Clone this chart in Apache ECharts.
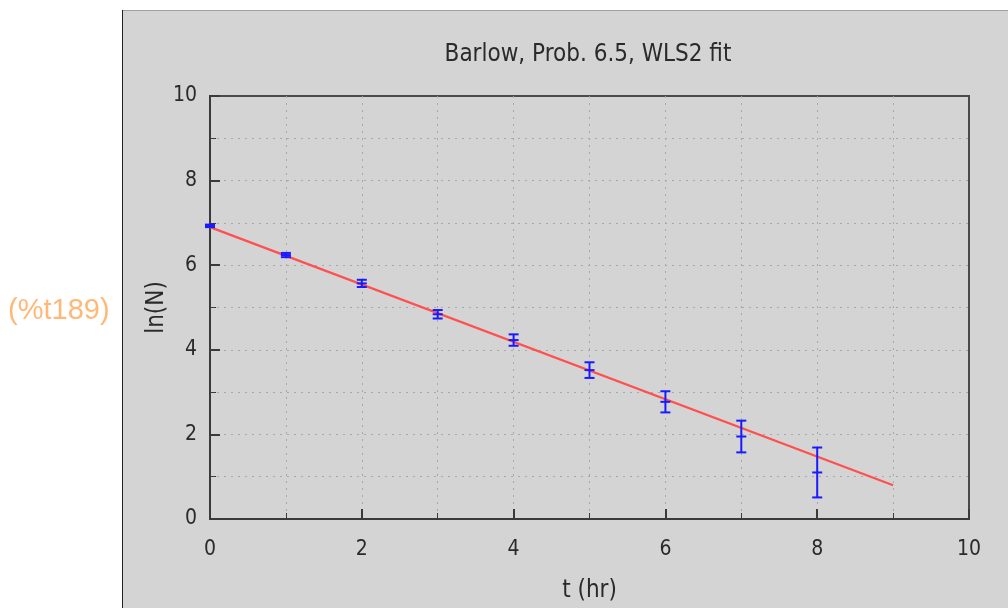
<!DOCTYPE html>
<html>
<head>
<meta charset="utf-8">
<script src="https://cdn.jsdelivr.net/npm/echarts@6/dist/echarts.min.js"></script>
<style>
html,body{margin:0;padding:0;background:#fff;}
#chart{width:1008px;height:608px;}
</style>
</head>
<body>
<div id="chart"></div>
<script>
// ---- data ----
const times = [0, 1, 2, 3, 4, 5, 6, 7, 8];
const lnN = [6.93, 6.24, 5.57, 4.84, 4.23, 3.52, 2.77, 1.95, 1.10];
const lnNErr = [0.03, 0.05, 0.085, 0.10, 0.135, 0.185, 0.25, 0.375, 0.59];
const fitT = [0, 9];
const fitLnN = [6.90, 0.80];
const xTicks = [0, 2, 4, 6, 8, 10];
const yTicks = [0, 2, 4, 6, 8, 10];
const titleText = 'Barlow, Prob. 6.5, WLS2 fit';
const xName = 't (hr)';
const yName = 'ln(N)';
const cellLabel = '(%t189)';

const FONT = 'DejaVu Sans Condensed, DejaVu Sans, sans-serif';
const errData = times.map((t, i) => [t, lnN[i] - lnNErr[i], lnN[i] + lnNErr[i], lnN[i]]);
const fitData = fitT.map((t, i) => [t, fitLnN[i]]);

const chart = echarts.init(document.getElementById('chart'), null, {renderer: 'canvas'});
const axisLabelStyle = {fontFamily: FONT, fontSize: 21, color: '#2a2a2a'};
const dotted = {show: true, showMinLine: false, showMaxLine: false, lineStyle: {color: '#a8a8a8', type: [2, 5], width: 1}};

chart.setOption({
  backgroundColor: '#ffffff',
  animation: false,
  graphic: [
    {type: 'rect', z: -10, silent: true, shape: {x: 122, y: 10, width: 886, height: 598}, style: {fill: '#d4d4d4'}},
    {type: 'line', z: -9, silent: true, shape: {x1: 122, y1: 10.5, x2: 1008, y2: 10.5}, style: {stroke: '#a0a0a0', lineWidth: 1}},
    {type: 'line', z: -9, silent: true, shape: {x1: 122.5, y1: 10, x2: 122.5, y2: 608}, style: {stroke: '#222', lineWidth: 1}},
    {type: 'text', silent: true, style: {text: cellLabel, x: 8, y: 311, verticalAlign: 'middle', fill: '#ffb877', font: '29px "Liberation Sans", Arial, sans-serif'}}
  ],
  title: {
    text: titleText, left: 583, top: 38, textAlign: 'center',
    textStyle: {fontFamily: FONT, fontSize: 24, fontWeight: 'normal', color: '#2a2a2a'}
  },
  grid: {left: 210, right: 39, top: 96, bottom: 89, show: true, borderColor: '#4a4a4a', borderWidth: 2, backgroundColor: 'transparent'},
  xAxis: {
    type: 'value', min: xTicks[0], max: xTicks[xTicks.length - 1], interval: 2,
    name: xName, nameLocation: 'middle', nameGap: 60, nameMoveOverlap: false,
    nameTextStyle: {fontFamily: FONT, fontSize: 24, color: '#2a2a2a'},
    axisLine: {show: true, lineStyle: {color: '#3a3a3a', width: 2}},
    axisTick: {show: true, inside: true, length: 10, lineStyle: {color: '#3a3a3a', width: 2}},
    minorTick: {show: true, splitNumber: 2, length: 6, lineStyle: {color: '#3a3a3a', width: 1}},
    axisLabel: Object.assign({margin: 20}, axisLabelStyle),
    splitLine: dotted,
    minorSplitLine: dotted
  },
  yAxis: {
    type: 'value', min: yTicks[0], max: yTicks[yTicks.length - 1], interval: 2,
    name: yName, nameLocation: 'middle', nameGap: 41, nameRotate: 90, nameMoveOverlap: false,
    nameTextStyle: {fontFamily: FONT, fontSize: 24, color: '#2a2a2a'},
    axisLine: {show: true, lineStyle: {color: '#3a3a3a', width: 2}},
    axisTick: {show: true, inside: true, length: 10, lineStyle: {color: '#3a3a3a', width: 2}},
    minorTick: {show: true, splitNumber: 2, length: 6, lineStyle: {color: '#3a3a3a', width: 1}},
    axisLabel: Object.assign({margin: 13}, axisLabelStyle),
    splitLine: dotted,
    minorSplitLine: dotted
  },
  series: [
    {
      type: 'line', data: fitData, symbol: 'none', z: 3,
      lineStyle: {color: '#ff4f4f', width: 2.2}
    },
    {
      type: 'custom', z: 4, data: errData,
      encode: {x: 0, y: [1, 2, 3]},
      renderItem: function (params, api) {
        const x = api.value(0);
        const lo = api.coord([x, api.value(1)]);
        const hi = api.coord([x, api.value(2)]);
        const mid = api.coord([x, api.value(3)]);
        const hw = 5;
        const st = {stroke: '#1a1aff', lineWidth: 2, fill: null};
        return {
          type: 'group',
          children: [
            {type: 'line', shape: {x1: lo[0], y1: lo[1], x2: hi[0], y2: hi[1]}, style: st},
            {type: 'line', shape: {x1: lo[0] - hw, y1: lo[1], x2: lo[0] + hw, y2: lo[1]}, style: st},
            {type: 'line', shape: {x1: hi[0] - hw, y1: hi[1], x2: hi[0] + hw, y2: hi[1]}, style: st},
            {type: 'line', shape: {x1: mid[0] - hw, y1: mid[1], x2: mid[0] + hw, y2: mid[1]}, style: st}
          ]
        };
      }
    }
  ]
});
</script>
</body>
</html>
